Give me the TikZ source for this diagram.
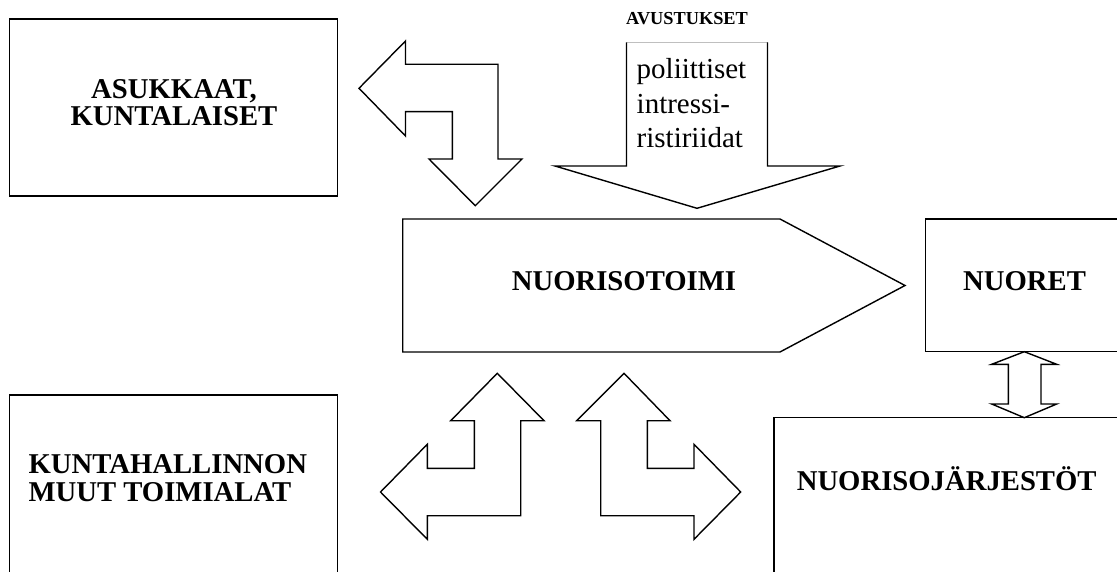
\documentclass[tikz,border=0pt]{standalone}
\usepackage{fontspec}
\setmainfont{Liberation Serif}
\tikzset{
  shape line/.style={draw=black, line width=1.4pt, line join=miter, fill=white},
  bigbold/.style={inner sep=0pt, font=\bfseries\fontsize{28.7}{27}\selectfont},
}
\begin{document}
\begin{tikzpicture}[x=1pt,y=-1pt]
\useasboundingbox (0,0) rectangle (1117,572);
\clip (0,0) rectangle (1117,572);

% boxes
\draw[shape line] (9.5,19) rectangle (337.5,196);
\draw[shape line] (9.5,395) rectangle (337.7,600);
\draw[shape line] (925.7,219) rectangle (1140,351.7);
\draw[shape line] (774,417.7) rectangle (1140,600);

% NUORISOTOIMI pentagon
\draw[shape line] (402.7,219) -- (780,219) -- (905,285.5) -- (780,352) -- (402.7,352) -- cycle;

% top-left bent arrow
\draw[shape line] (359,88.3) -- (405.5,41) -- (405.5,64.3) -- (498,64.3) -- (498,159)
  -- (522,159) -- (475.3,205.7) -- (429,159) -- (452.3,159) -- (452.3,111.7)
  -- (405.5,111.7) -- (405.5,136) -- cycle;

% top down arrow (open top)
\fill[white] (626.5,42.3) -- (767.5,42.3) -- (767.5,166) -- (840,166) -- (697,208.3)
  -- (555,166) -- (626.5,166) -- cycle;
\draw[black!25, line width=0.8pt] (626.5,42.3) -- (767.5,42.3);
\draw[black, line width=1.4pt] (626.5,42.3) -- (626.5,166) -- (555,166) -- (697,208.3)
  -- (840,166) -- (767.5,166) -- (767.5,42.3);

% double arrow NUORET <-> NUORISOJARJESTOT
\draw[shape line] (1024.3,351.7) -- (1056.7,364.3) -- (1041,364.3) -- (1041,404)
  -- (1056.7,404) -- (1024.3,417.7) -- (991.7,404) -- (1008.3,404) -- (1008.3,364.3)
  -- (991.7,364.3) -- cycle;

% bottom-left bent arrow
\draw[shape line] (497.3,373.3) -- (544,420.7) -- (520.7,420.7) -- (520.7,515.7)
  -- (427.3,515.7) -- (427.3,539.3) -- (380.5,492) -- (427.3,444.3) -- (427.3,468.3)
  -- (474.3,468.3) -- (474.3,420.7) -- (450.7,420.7) -- cycle;

% bottom-right bent arrow
\draw[shape line] (624,373.3) -- (670,420.7) -- (647.3,420.7) -- (647.3,468.3)
  -- (694,468.3) -- (694,444.3) -- (740.7,492) -- (694,539.3) -- (694,515.7)
  -- (600.7,515.7) -- (600.7,420.7) -- (576.7,420.7) -- cycle;

% texts (multi-line nodes anchored at the baseline of their last line)
\node[bigbold, align=center, anchor=base] (asuk) at (174,126) {ASUKKAAT,\\KUNTALAISET};
\node[bigbold, align=left, anchor=base west, font=\bfseries\fontsize{28.7}{28.4}\selectfont] (kunta) at (28.3,501.7) {KUNTAHALLINNON\\MUUT TOIMIALAT};
\node[bigbold, anchor=base] (nuoriso) at (624,290.7) {NUORISOTOIMI};
\node[bigbold, anchor=base] (nuoret) at (1024.5,290.7) {NUORET};
\node[bigbold, anchor=base] (jarj) at (946.7,490) {NUORISOJÄRJESTÖT};
\node[inner sep=0pt, anchor=base, font=\bfseries\fontsize{18.3}{20}\selectfont] (avus) at (687,25) {AVUSTUKSET};
\node[inner sep=0pt, anchor=base west, align=left, font=\fontsize{29}{34.5}\selectfont] (pol) at (636.5,148) {poliittiset\\intressi-\\ristiriidat};
\end{tikzpicture}
\end{document}
